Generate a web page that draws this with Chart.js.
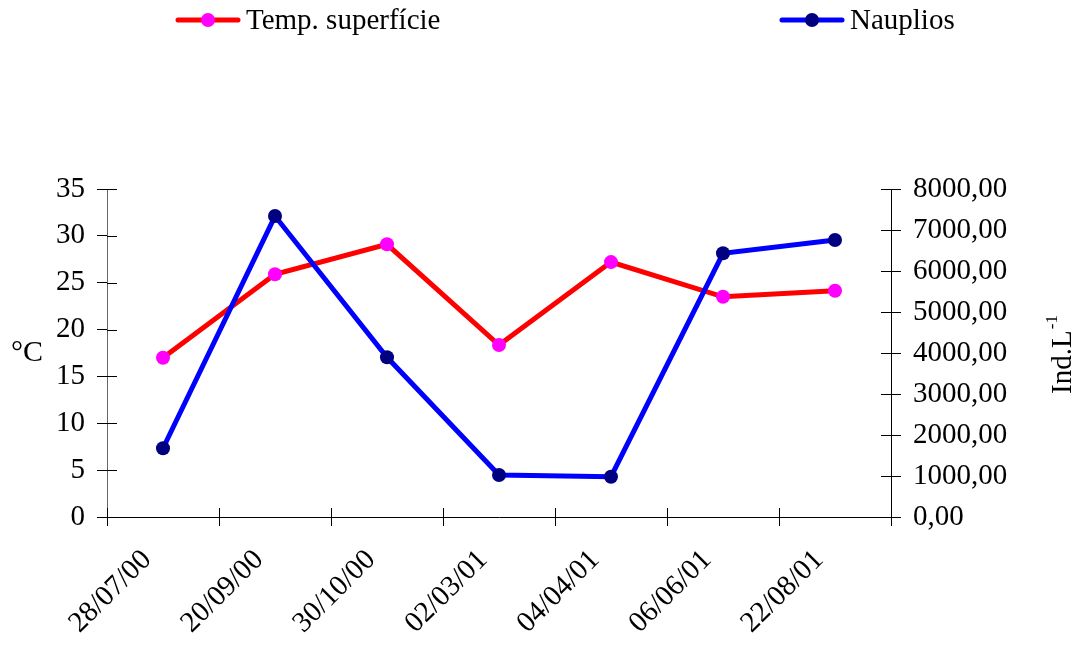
<!DOCTYPE html>
<html>
<head>
<meta charset="utf-8">
<script src="https://cdn.jsdelivr.net/npm/chart.js@4/dist/chart.umd.min.js"></script>
<style>
  html, body { margin: 0; padding: 0; background: #fff; }
  #wrap { position: relative; width: 1077px; height: 646px; }
</style>
</head>
<body>
<div id="wrap"><canvas id="chart"></canvas></div>
<script>
// datas de coleta
const dates = ['28/07/00', '20/09/00', '30/10/00', '02/03/01', '04/04/01', '06/06/01', '22/08/01'];
// temperatura da superfície (°C)
const tempSuperficie = [17.0, 25.9, 29.1, 18.35, 27.2, 23.5, 24.15];
// náuplios (ind.L-1)
const nauplios = [1676, 7340, 3895, 1024, 983, 6432, 6756];

const tempTicks = [0, 5, 10, 15, 20, 25, 30, 35];
const nauplTicks = [0, 1000, 2000, 3000, 4000, 5000, 6000, 7000, 8000];

const FONT = "'Liberation Serif', 'Times New Roman', serif";

// legenda: linha + marcador, itens afastados como no original
const legendX = [178, 782];

const extrasPlugin = {
  id: 'extras',
  afterDraw(chart) {
    const ctx = chart.ctx;
    const area = chart.chartArea;
    ctx.save();

    // ticks que atravessam o eixo (parte interna)
    ctx.strokeStyle = '#000';
    ctx.lineWidth = 1;
    const yL = chart.scales.y;
    yL.ticks.forEach(t => {
      const py = Math.round(yL.getPixelForValue(t.value)) + 0.5;
      ctx.beginPath(); ctx.moveTo(area.left, py); ctx.lineTo(area.left + 10, py); ctx.stroke();
    });
    const yR = chart.scales.y2;
    yR.ticks.forEach(t => {
      const py = Math.round(yR.getPixelForValue(t.value)) + 0.5;
      ctx.beginPath(); ctx.moveTo(area.right - 10, py); ctx.lineTo(area.right, py); ctx.stroke();
    });
    const xs = chart.scales.x;
    for (let i = 0; i <= dates.length; i++) {
      const px = Math.round(xs.getPixelForValue(i - 0.5)) + 0.5;
      ctx.beginPath(); ctx.moveTo(px, area.bottom - 9); ctx.lineTo(px, area.bottom); ctx.stroke();
    }

    // títulos dos eixos
    ctx.fillStyle = '#000';
    ctx.font = '30px ' + FONT;
    ctx.textAlign = 'center';
    ctx.textBaseline = 'middle';
    ctx.fillText('°C', 27, (area.top + area.bottom) / 2);

    ctx.save();
    ctx.translate(1060, (area.top + area.bottom) / 2 + 2);
    ctx.rotate(-Math.PI / 2);
    ctx.textAlign = 'left';
    ctx.textBaseline = 'alphabetic';
    const main = 'Ind.L';
    ctx.font = '29px ' + FONT;
    const w1 = ctx.measureText(main).width;
    ctx.font = '17px ' + FONT;
    const w2 = ctx.measureText('-1').width;
    const x0 = -(w1 + w2) / 2;
    ctx.font = '29px ' + FONT;
    ctx.fillText(main, x0, 11);
    ctx.font = '17px ' + FONT;
    ctx.fillText('-1', x0 + w1 + 1, -3);
    ctx.restore();

    // legenda
    chart.data.datasets.forEach((ds, i) => {
      const lx = legendX[i];
      const ly = 20;
      ctx.strokeStyle = ds.borderColor;
      ctx.lineWidth = 5;
      ctx.lineCap = 'round';
      ctx.beginPath(); ctx.moveTo(lx, ly); ctx.lineTo(lx + 60, ly); ctx.stroke();
      ctx.fillStyle = ds.pointBackgroundColor;
      ctx.beginPath(); ctx.arc(lx + 30, ly, 7, 0, Math.PI * 2); ctx.fill();
      ctx.fillStyle = '#000';
      ctx.font = '29px ' + FONT;
      ctx.textAlign = 'left';
      ctx.textBaseline = 'middle';
      ctx.fillText(ds.label, lx + 68, ly + 1);
    });

    ctx.restore();
  }
};

const tickFont = { family: FONT, size: 29 };

new Chart(document.getElementById('chart'), {
  type: 'line',
  data: {
    labels: dates,
    datasets: [
      {
        label: 'Temp. superfície',
        data: tempSuperficie,
        yAxisID: 'y',
        borderColor: '#ff0000',
        backgroundColor: '#ff00ff',
        pointBackgroundColor: '#ff00ff',
        pointBorderColor: '#ff00ff',
        borderWidth: 5,
        pointRadius: 7,
        pointBorderWidth: 0,
        tension: 0,
        order: 2
      },
      {
        label: 'Nauplios',
        data: nauplios,
        yAxisID: 'y2',
        borderColor: '#0000ff',
        backgroundColor: '#000080',
        pointBackgroundColor: '#000080',
        pointBorderColor: '#000080',
        borderWidth: 5,
        pointRadius: 7,
        pointBorderWidth: 0,
        tension: 0,
        order: 1
      }
    ]
  },
  options: {
    responsive: true,
    maintainAspectRatio: false,
    animation: false,
    layout: { padding: { top: 189, left: 0, right: 0, bottom: 0 } },
    plugins: {
      legend: { display: false },
      tooltip: { enabled: false }
    },
    scales: {
      x: {
        offset: true,
        grid: { offset: true, drawOnChartArea: false, color: '#000', tickLength: 9, tickColor: '#000' },
        border: { color: '#000', width: 1 },
        ticks: { color: '#000', font: tickFont, minRotation: 45, maxRotation: 45, padding: 17, labelOffset: -16 },
        afterFit(scale) { scale.height = 129; }
      },
      y: {
        position: 'left',
        min: 0,
        max: 35,
        afterBuildTicks(scale) { scale.ticks = tempTicks.map(v => ({ value: v })); },
        grid: { drawOnChartArea: false, tickLength: 10, tickColor: '#000' },
        border: { color: '#666', width: 1 },
        ticks: { color: '#000', font: tickFont, padding: 12 },
        afterFit(scale) { scale.width = 107; }
      },
      y2: {
        position: 'right',
        min: 0,
        max: 8000,
        afterBuildTicks(scale) { scale.ticks = nauplTicks.map(v => ({ value: v })); },
        grid: { drawOnChartArea: false, tickLength: 10, tickColor: '#000' },
        border: { color: '#000', width: 1 },
        ticks: {
          color: '#000',
          font: tickFont,
          padding: 12,
          callback: v => v.toFixed(2).replace('.', ',')
        },
        afterFit(scale) { scale.width = 186; }
      }
    }
  },
  plugins: [extrasPlugin]
});
</script>
</body>
</html>
